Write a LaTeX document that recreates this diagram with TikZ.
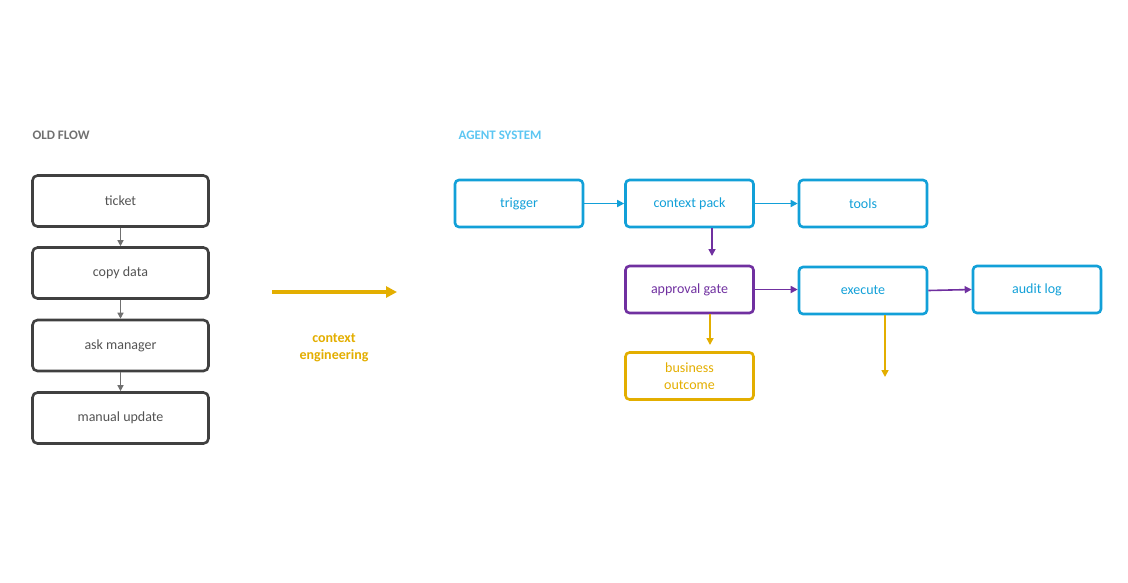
\documentclass[tikz,border=0pt]{standalone}
\usepackage{fontspec}
\setmainfont{Carlito}
\usetikzlibrary{arrows.meta}
\definecolor{dk}{HTML}{404040}
\definecolor{gr}{HTML}{707070}
\definecolor{bl}{HTML}{12A0D8}
\definecolor{lb}{HTML}{5CC6F2}
\definecolor{pu}{HTML}{7030A0}
\definecolor{ye}{HTML}{E3AE00}
\begin{document}
\begin{tikzpicture}[x=1pt,y=-1pt,
 box/.style={draw,line width=2.6pt,rounded corners=5pt,minimum width=176pt,minimum height=51pt,inner sep=0pt,font=\fontsize{14}{16}\selectfont,align=center},
 rb/.style={draw=bl,text=bl,line width=2.6pt,rounded corners=4pt,minimum width=128pt,minimum height=47pt,inner sep=0pt,font=\fontsize{14}{16.5}\selectfont,align=center},
 ga/.style={draw=gr,line width=1.3pt,-{Triangle[length=6pt,width=6pt]}},
 ar/.style={line width=1.6pt,-{Triangle[length=7pt,width=7pt]}}]
\useasboundingbox (0,0) rectangle (1128,582);
\node[anchor=west,text=gr,font=\bfseries\fontsize{13}{15}\selectfont] (of) at (29,135) {OLD FLOW};
\node[anchor=west,text=lb,font=\bfseries\fontsize{13}{15}\selectfont] (as) at (455,135) {AGENT SYSTEM};
\foreach \n/\y/\t in {a/201/ticket,b/273/copy data,c/345.5/ask manager,d/418/manual update}
 \node[box,draw=dk,text=dk!90] (\n) at (120.5,\y) {\t};
\draw[ga] (a) -- (b); \draw[ga] (b) -- (c); \draw[ga] (c) -- (d);
\coordinate (ya) at (272,292); \coordinate (yb) at (397,292);
\draw[draw=ye,line width=3.5pt,-{Triangle[length=11pt,width=11pt]}] (ya) -- (yb);
\node[text=ye,font=\bfseries\fontsize{14}{17}\selectfont,align=center] (ce) at (334,348) {context\\engineering};
\node[rb] (tr) at (519,203.5) {trigger};
\node[rb] (cp) at (689.5,203.5) {context pack};
\node[rb] (to) at (863,203.5) {tools};
\node[rb,draw=pu,text=pu] (ag) at (689.5,289.5) {approval gate};
\node[rb] (ex) at (863,290.5) {execute};
\node[rb] (al) at (1037,289.5) {audit log};
\node[rb,draw=ye,text=ye] (bo) at (689.5,376) {business\\outcome};
\draw[ar,draw=bl,fill=bl] (tr) -- (cp);
\draw[ar,draw=bl,fill=bl] (cp) -- (to);
\draw[ar,draw=pu,fill=pu] (712,228) -- (712,256);
\draw[ar,draw=pu,fill=pu] (ag.east) -- (ex.west|-ag.east);
\draw[ar,draw=pu,fill=pu] (ex.east) -- (al.west);
\draw[ar,draw=ye,fill=ye] (710,314) -- (710,345);
\coordinate (ee) at (885,377);
\draw[ar,draw=ye,fill=ye] (ex.south-|ee) -- (ee);
\end{tikzpicture}
\end{document}
